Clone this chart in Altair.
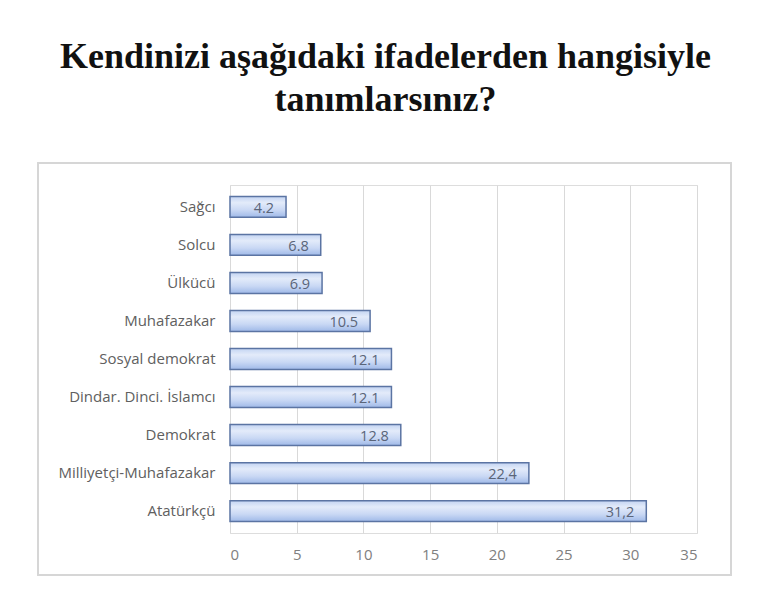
import altair as alt
import pandas as pd

categories = ["Sağcı", "Solcu", "Ülkücü", "Muhafazakar", "Sosyal demokrat",
              "Dindar. Dinci. İslamcı", "Demokrat", "Milliyetçi-Muhafazakar", "Atatürkçü"]
values = [4.2, 6.8, 6.9, 10.5, 12.1, 12.1, 12.8, 22.4, 31.2]
value_labels = ["4.2", "6.8", "6.9", "10.5", "12.1", "12.1", "12.8", "22,4", "31,2"]
x_ticks = [0, 5, 10, 15, 20, 25, 30, 35]

df = pd.DataFrame({"cat": categories, "val": values, "lab": value_labels})

W, H = 467, 348

y_enc = alt.Y("cat:N", sort=categories, title=None,
              scale=alt.Scale(paddingInner=0.45, paddingOuter=0.3),
              axis=alt.Axis(labelFont="Open Sans", labelFontSize=15, labelColor="#606060",
                            labelPadding=15, ticks=False, domain=False, grid=False,
                            zindex=1))
x_enc = alt.X("val:Q", title=None,
              scale=alt.Scale(domain=[0, 35], nice=False),
              axis=alt.Axis(values=x_ticks, labelFont="Open Sans", labelFontSize=15,
                            labelColor="#808080", labelPadding=14, ticks=False,
                            domain=False, grid=True, gridColor="#d9d9d9", gridWidth=1))

frame = alt.Chart(df).mark_rect(fillOpacity=0, stroke="#d6d6d6", strokeWidth=1.5).encode(
    x=alt.value(-192), x2=alt.value(501), y=alt.value(-22), y2=alt.value(390)
)

gradient = alt.Gradient(
    gradient="linear",
    stops=[alt.GradientStop(color="#c3d4f2", offset=0),
           alt.GradientStop(color="#e3ebfa", offset=0.3),
           alt.GradientStop(color="#c9d8f4", offset=0.65),
           alt.GradientStop(color="#9fb9e8", offset=1)],
    x1=0, x2=0, y1=0, y2=1)

bars = alt.Chart(df).mark_bar(color=gradient, stroke="#5b74a3", strokeWidth=1.5,
                              cornerRadius=0).encode(
    x=x_enc, y=y_enc
)

texts = alt.Chart(df).mark_text(align="right", baseline="middle", dx=-12, dy=2,
                                font="Open Sans", fontSize=14.5, color="#5a6579").encode(
    x=alt.X("val:Q", scale=alt.Scale(domain=[0, 35], nice=False)),
    y=alt.Y("cat:N", sort=categories),
    text="lab:N"
)

chart = alt.layer(frame, bars, texts).properties(
    width=W, height=H,
    title=alt.TitleParams(
        text=["Kendinizi aşağıdaki ifadelerden hangisiyle", "tanımlarsınız?"],
        font="Liberation Serif", fontSize=36, fontWeight="bold", color="#111111",
        anchor="middle", frame="group", dx=-78, offset=43, lineHeight=43
    ),
    autosize=alt.AutoSizeParams(type="none"),
    padding={"left": 222, "top": 177, "right": 40, "bottom": 55}
).configure_view(stroke=None).configure(background="white")

chart.save("out.html", embed_options={"renderer": "svg", "actions": False})
